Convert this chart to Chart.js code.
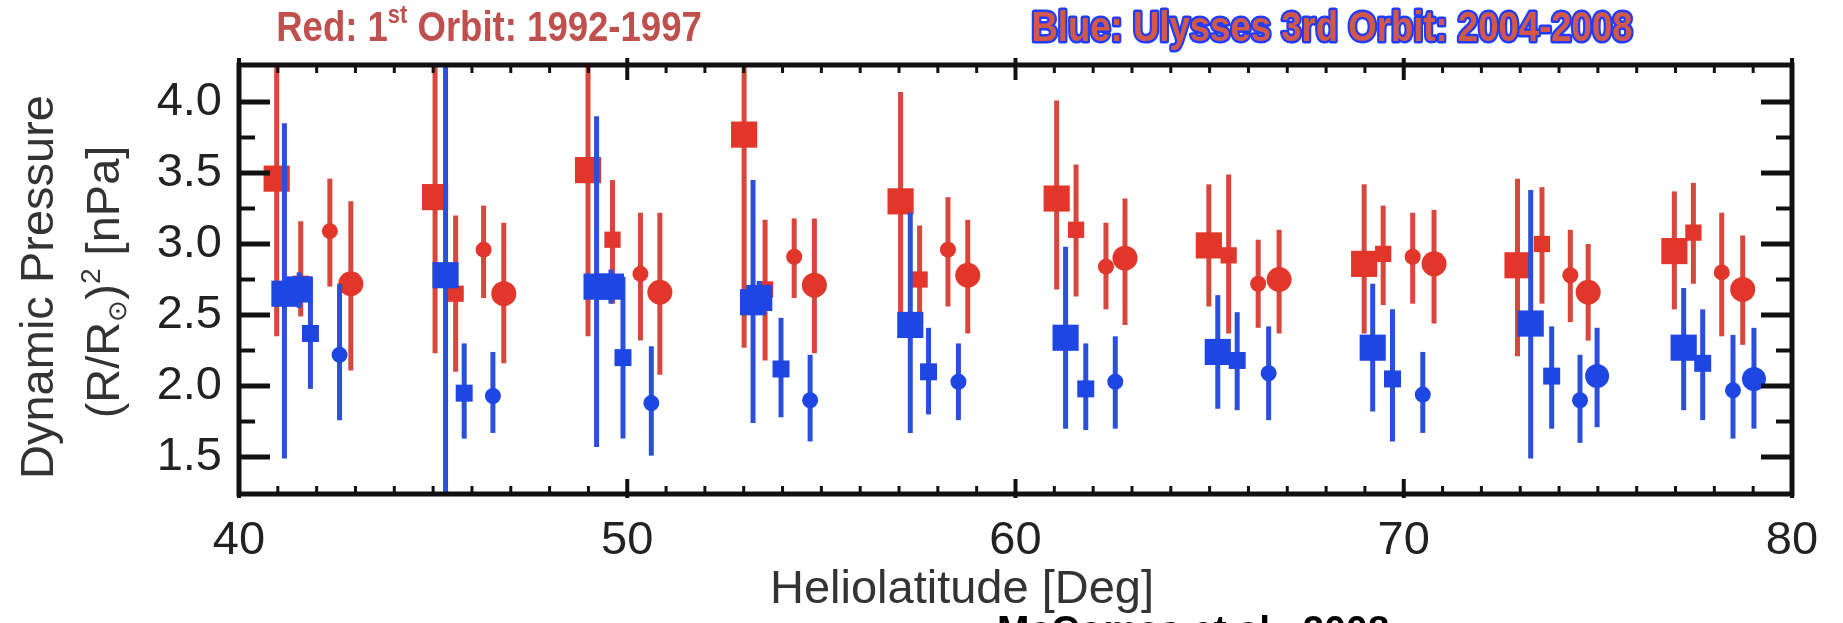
<!DOCTYPE html>
<html>
<head>
<meta charset="utf-8">
<script src="https://cdn.jsdelivr.net/npm/chart.js@4.4.1/dist/chart.umd.min.js"></script>
<style>
  html, body { margin: 0; padding: 0; background: #fff; }
  #chart { display: block; }
</style>
</head>
<body>
<canvas id="chart" width="1843" height="623"></canvas>
<script>
// ============================================
// DYNAMIC PRESSURE vs HELIOLATITUDE
// ============================================

// ========== TICKS ==========
const xTickValues = [40, 50, 60, 70, 80];
const xTickLabels = ['40', '50', '60', '70', '80'];
const yTickValues = [1.5, 2.0, 2.5, 3.0, 3.5, 4.0];
const yTickLabels = ['1.5', '2.0', '2.5', '3.0', '3.5', '4.0'];
const yMinorTicks = [1.75, 2.25, 2.75, 3.25, 3.75];

// ========== RED: 1st orbit 1992-1997 ==========
const redBigSqX  = [40.97, 45.05, 48.99, 53.01, 57.04, 61.06, 64.98, 68.98, 72.93, 76.97];
const redBigSqY  = [3.46, 3.33, 3.52, 3.77, 3.30, 3.32, 2.99, 2.86, 2.85, 2.95];
const redBigSqLo = [2.35, 2.23, 2.35, 2.27, 2.49, 2.68, 2.56, 2.37, 2.21, 2.54];
const redBigSqHi = [4.57, 4.43, 4.70, 5.27, 4.07, 4.01, 3.42, 3.42, 3.46, 3.37];

const redSmSqX  = [41.59, 45.58, 49.62, 53.55, 57.53, 61.56, 65.49, 69.47, 73.56, 77.46];
const redSmSqY  = [2.72, 2.65, 3.03, 2.68, 2.75, 3.10, 2.92, 2.93, 3.00, 3.08];
const redSmSqLo = [2.49, 2.10, 2.58, 2.18, 2.49, 2.63, 2.37, 2.57, 2.58, 2.72];
const redSmSqHi = [3.16, 3.20, 3.45, 3.17, 3.13, 3.56, 3.49, 3.27, 3.40, 3.43];

const redSmCiX  = [42.34, 46.30, 50.34, 54.30, 58.26, 62.33, 66.25, 70.23, 74.29, 78.19];
const redSmCiY  = [3.09, 2.96, 2.79, 2.91, 2.96, 2.84, 2.72, 2.91, 2.78, 2.80];
const redSmCiLo = [2.70, 2.62, 2.32, 2.62, 2.56, 2.54, 2.41, 2.58, 2.45, 2.35];
const redSmCiHi = [3.46, 3.27, 3.22, 3.18, 3.33, 3.15, 3.03, 3.22, 3.10, 3.22];

const redBigCiX  = [42.88, 46.82, 50.84, 54.82, 58.77, 62.82, 66.79, 70.78, 74.75, 78.73];
const redBigCiY  = [2.72, 2.65, 2.66, 2.71, 2.78, 2.90, 2.75, 2.86, 2.66, 2.68];
const redBigCiLo = [2.11, 2.16, 2.08, 2.23, 2.37, 2.43, 2.37, 2.44, 2.32, 2.29];
const redBigCiHi = [3.30, 3.15, 3.22, 3.18, 3.17, 3.32, 3.10, 3.24, 3.00, 3.06];

// ========== BLUE: Ulysses 3rd orbit 2004-2008 ==========
const blueBigSqX  = [41.17, 41.55, 45.32, 49.21, 49.58, 53.24, 53.40, 57.29, 61.29, 65.21, 69.20, 73.27, 77.21];
const blueBigSqY  = [2.65, 2.68, 2.78, 2.70, 2.70, 2.59, 2.62, 2.43, 2.34, 2.24, 2.27, 2.44, 2.27];
const blueBigSqLo = [1.49, 2.55, 1.08, 1.57, 2.58, 1.74, 2.50, 1.67, 1.70, 1.84, 1.82, 1.49, 1.83];
const blueBigSqHi = [3.85, 2.80, 4.48, 3.90, 2.82, 3.45, 2.74, 3.22, 2.98, 2.64, 2.72, 3.38, 2.69];

const blueSmSqX  = [41.84, 45.80, 49.89, 53.96, 57.76, 61.81, 65.71, 69.71, 73.81, 77.70];
const blueSmSqY  = [2.37, 1.95, 2.20, 2.12, 2.10, 1.98, 2.18, 2.05, 2.07, 2.16];
const blueSmSqLo = [1.98, 1.63, 1.63, 1.78, 1.80, 1.69, 1.83, 1.61, 1.70, 1.76];
const blueSmSqHi = [2.77, 2.30, 2.77, 2.48, 2.41, 2.30, 2.52, 2.54, 2.42, 2.54];

const blueSmCiX  = [42.59, 46.54, 50.62, 54.71, 58.53, 62.57, 66.52, 70.49, 74.54, 78.48];
const blueSmCiY  = [2.22, 1.93, 1.88, 1.90, 2.03, 2.03, 2.09, 1.94, 1.90, 1.97];
const blueSmCiLo = [1.76, 1.67, 1.51, 1.61, 1.76, 1.70, 1.76, 1.67, 1.60, 1.63];
const blueSmCiHi = [2.72, 2.24, 2.28, 2.22, 2.30, 2.35, 2.42, 2.24, 2.22, 2.36];

const blueBigCiX  = [74.98, 79.02];
const blueBigCiY  = [2.07, 2.05];
const blueBigCiLo = [1.71, 1.70];
const blueBigCiHi = [2.41, 2.41];

// ========== STYLE ==========
const RED = '#e2362b';
const RED_BAR = '#d8463c';
const BLUE = '#1d46e2';
const BLUE_BAR = '#2a4fdc';
const FONT = '"Liberation Sans", Arial, Helvetica, sans-serif';

const series = [
    { x: redBigSqX,  y: redBigSqY,  lo: redBigSqLo,  hi: redBigSqHi,  shape: 'rect',   r: 18.5, color: RED,  bar: RED_BAR,  order: 1 },
    { x: redSmSqX,   y: redSmSqY,   lo: redSmSqLo,   hi: redSmSqHi,   shape: 'rect',   r: 11.5, color: RED,  bar: RED_BAR,  order: 1 },
    { x: redSmCiX,   y: redSmCiY,   lo: redSmCiLo,   hi: redSmCiHi,   shape: 'circle', r: 8,    color: RED,  bar: RED_BAR,  order: 1 },
    { x: redBigCiX,  y: redBigCiY,  lo: redBigCiLo,  hi: redBigCiHi,  shape: 'circle', r: 12.5, color: RED,  bar: RED_BAR,  order: 1 },
    { x: blueBigSqX, y: blueBigSqY, lo: blueBigSqLo, hi: blueBigSqHi, shape: 'rect',   r: 18.5, color: BLUE, bar: BLUE_BAR, order: 0 },
    { x: blueSmSqX,  y: blueSmSqY,  lo: blueSmSqLo,  hi: blueSmSqHi,  shape: 'rect',   r: 12,   color: BLUE, bar: BLUE_BAR, order: 0 },
    { x: blueSmCiX,  y: blueSmCiY,  lo: blueSmCiLo,  hi: blueSmCiHi,  shape: 'circle', r: 8,    color: BLUE, bar: BLUE_BAR, order: 0 },
    { x: blueBigCiX, y: blueBigCiY, lo: blueBigCiLo, hi: blueBigCiHi, shape: 'circle', r: 12,   color: BLUE, bar: BLUE_BAR, order: 0 }
];

const datasets = series.map(s => ({
    data: s.x.map((x, i) => ({ x: x, y: s.y[i] })),
    pointStyle: s.shape,
    pointRadius: s.r,
    pointBorderWidth: 0,
    pointBackgroundColor: s.color,
    pointBorderColor: s.color,
    showLine: false,
    order: s.order
}));

// ========== ERROR BARS ==========
const errorBars = {
    id: 'errorBars',
    beforeDatasetDraw(chart, args) {
        const s = series[args.index];
        const ctx = chart.ctx;
        const area = chart.chartArea;
        const xs = chart.scales.x, ys = chart.scales.y;
        ctx.save();
        ctx.beginPath();
        ctx.rect(area.left, area.top, area.right - area.left, area.bottom - area.top);
        ctx.clip();
        ctx.strokeStyle = s.bar;
        ctx.lineWidth = 5;
        s.x.forEach((x, i) => {
            const px = xs.getPixelForValue(x);
            ctx.beginPath();
            ctx.moveTo(px, ys.getPixelForValue(s.lo[i]));
            ctx.lineTo(px, ys.getPixelForValue(s.hi[i]));
            ctx.stroke();
        });
        ctx.restore();
    }
};

// ========== FRAME + INWARD TICKS ==========
const frame = {
    id: 'frame',
    afterDatasetsDraw(chart) {
        const ctx = chart.ctx;
        const a = chart.chartArea;
        const xs = chart.scales.x, ys = chart.scales.y;
        ctx.save();
        ctx.strokeStyle = '#111';
        ctx.lineCap = 'butt';

        // y ticks, left and right
        ctx.lineWidth = 5;
        yTickValues.forEach(v => {
            const py = ys.getPixelForValue(v);
            ctx.beginPath();
            ctx.moveTo(a.left, py); ctx.lineTo(a.left + 31, py);
            ctx.moveTo(a.right, py); ctx.lineTo(a.right - 31, py);
            ctx.stroke();
        });
        ctx.lineWidth = 4;
        yMinorTicks.forEach(v => {
            const py = ys.getPixelForValue(v);
            ctx.beginPath();
            ctx.moveTo(a.left, py); ctx.lineTo(a.left + 16, py);
            ctx.moveTo(a.right, py); ctx.lineTo(a.right - 16, py);
            ctx.stroke();
        });

        // x ticks, top and bottom (minor every degree)
        for (let d = xs.min; d <= xs.max; d++) {
            const px = xs.getPixelForValue(d);
            const major = xTickValues.includes(d);
            ctx.lineWidth = major ? 4 : 3;
            const len = major ? 15 : 8;
            ctx.beginPath();
            ctx.moveTo(px, a.top - (major ? 7 : 0)); ctx.lineTo(px, a.top + len);
            ctx.moveTo(px, a.bottom + (major ? 4 : 0)); ctx.lineTo(px, a.bottom - len);
            ctx.stroke();
        }

        ctx.lineWidth = 5;
        ctx.strokeRect(a.left, a.top, a.right - a.left, a.bottom - a.top);
        ctx.restore();
    }
};

// ========== TEXTS ==========
// pieces: [text, size factor, baseline shift in em]; sx squeezes the text horizontally
function drawPieces(ctx, pieces, cx, cy, size, weight, outline, sx) {
    sx = sx || 1;
    const fontFor = p => weight + ' ' + (size * p[1]).toFixed(1) + 'px ' + FONT;
    let total = 0;
    pieces.forEach(p => {
        ctx.font = fontFor(p);
        total += ctx.measureText(p[0]).width;
    });
    ctx.save();
    ctx.translate(cx, cy);
    ctx.scale(sx, 1);
    let x = -total / 2;
    ctx.textAlign = 'left';
    ctx.textBaseline = 'middle';
    pieces.forEach(p => {
        ctx.font = fontFor(p);
        const y = p[2] * size;
        if (outline) ctx.strokeText(p[0], x, y);
        ctx.fillText(p[0], x, y);
        x += ctx.measureText(p[0]).width;
    });
    ctx.restore();
}

const texts = {
    id: 'texts',
    afterDraw(chart) {
        const ctx = chart.ctx;
        ctx.save();

        // red title
        ctx.fillStyle = '#c0504d';
        drawPieces(ctx, [['Red: 1', 1, 0], ['st', 0.6, -0.3], [' Orbit: 1992-1997', 1, 0]], 489, 29, 42, 'bold', false, 0.87);

        // blue title (outlined)
        ctx.strokeStyle = '#1f3cff';
        ctx.lineWidth = 5;
        ctx.lineJoin = 'round';
        ctx.fillStyle = '#d2584a';
        drawPieces(ctx, [['Blue: Ulysses 3rd Orbit: 2004-2008', 1, 0]], 1332, 29, 42, 'bold', true, 0.87);

        // x title
        ctx.fillStyle = '#333';
        drawPieces(ctx, [['Heliolatitude [Deg]', 1, 0]], 962, 590, 47, 'normal', false);

        // y title, two rotated lines
        ctx.save();
        ctx.translate(40, 287);
        ctx.rotate(-Math.PI / 2);
        drawPieces(ctx, [['Dynamic Pressure', 1, 0]], 0, 0, 47, 'normal', false);
        ctx.restore();

        ctx.save();
        ctx.translate(106, 282);
        ctx.rotate(-Math.PI / 2);
        drawPieces(ctx, [['(R/R', 1, 0], ['\u2299', 0.55, 0.28], [')', 1, 0], ['2', 0.6, -0.3], [' [nPa]', 1, 0]], 0, 0, 47, 'normal', false);
        ctx.restore();

        // citation, cut by the bottom edge
        ctx.fillStyle = '#000';
        ctx.font = 'bold 39px ' + FONT;
        ctx.textBaseline = 'alphabetic';
        ctx.textAlign = 'left';
        ctx.fillText('McComas et al., 2008', 997, 643);

        ctx.restore();
    }
};

// ========== CHART ==========
const tickFont = { family: FONT, size: 47 };

new Chart(document.getElementById('chart').getContext('2d'), {
    type: 'scatter',
    data: { datasets: datasets },
    options: {
        responsive: false,
        animation: false,
        devicePixelRatio: 1,
        layout: { padding: { top: 65, right: 51, bottom: 0, left: 0 } },
        plugins: {
            legend: { display: false },
            tooltip: { enabled: false }
        },
        scales: {
            x: {
                type: 'linear',
                min: 40,
                max: 80,
                grid: { display: false, drawTicks: false },
                border: { display: false },
                afterBuildTicks: s => { s.ticks = xTickValues.map(v => ({ value: v })); },
                afterFit: s => { s.height = 129; },
                ticks: {
                    autoSkip: false,
                    maxRotation: 0,
                    padding: 19,
                    color: '#222',
                    font: tickFont,
                    callback: (v, i) => xTickLabels[i]
                }
            },
            y: {
                type: 'linear',
                min: 1.24,
                max: 4.26,
                grid: { display: false, drawTicks: false },
                border: { display: false },
                afterBuildTicks: s => { s.ticks = yTickValues.map(v => ({ value: v })); },
                afterFit: s => { s.width = 239; },
                ticks: {
                    autoSkip: false,
                    padding: 17,
                    color: '#222',
                    font: tickFont,
                    callback: (v, i) => yTickLabels[i]
                }
            }
        }
    },
    plugins: [errorBars, frame, texts]
});
</script>
</body>
</html>
